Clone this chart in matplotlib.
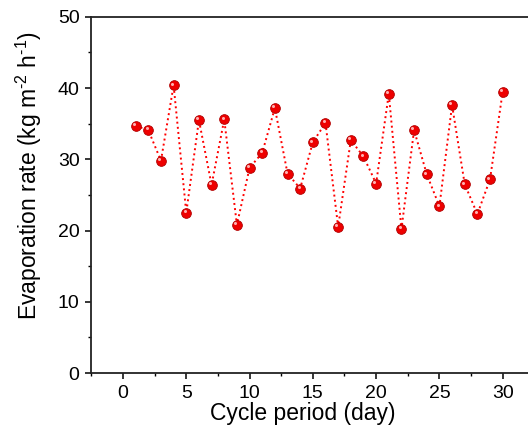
import numpy as np
import matplotlib
matplotlib.use("Agg")
import matplotlib.pyplot as plt
from matplotlib.transforms import offset_copy
from matplotlib.ticker import MultipleLocator

plt.rcParams['font.family'] = ['Liberation Sans', 'DejaVu Sans']
plt.rcParams['mathtext.fontset'] = 'custom'
plt.rcParams['mathtext.rm'] = 'Liberation Sans'

# cycle day and evaporation rate
days = np.arange(1, 31)
rate = [34.7, 34.1, 29.8, 40.4, 22.5, 35.5, 26.4, 35.6, 20.8, 28.8,
        30.9, 37.2, 28.0, 25.9, 32.4, 35.1, 20.5, 32.7, 30.4, 26.6,
        39.2, 20.2, 34.1, 27.9, 23.4, 37.6, 26.5, 22.3, 27.2, 39.5]

fig = plt.figure(figsize=(5.28, 4.43), dpi=100)
ax = fig.add_axes([0.173, 0.158, 0.827, 0.804])

ax.plot(days, rate, linestyle=':', color='red', linewidth=1.4, zorder=2)
ax.plot(days, rate, linestyle='none', marker='o', markersize=7,
        markerfacecolor='#ee0000', markeredgecolor='#b00000',
        markeredgewidth=0.6, zorder=3)
# little highlight to fake the shaded sphere look
hl = offset_copy(ax.transData, fig=fig, x=-1.2, y=1.2, units='points')
ax.plot(days, rate, linestyle='none', marker='o', markersize=2.2,
        markerfacecolor='#ffb0b0', markeredgewidth=0, transform=hl, zorder=4)

ax.set_xlim(-2.5, 32)
ax.set_ylim(0, 50)
ax.xaxis.set_major_locator(MultipleLocator(5))
ax.xaxis.set_minor_locator(MultipleLocator(2.5))
ax.yaxis.set_major_locator(MultipleLocator(10))
ax.yaxis.set_minor_locator(MultipleLocator(5))

for s in ['left', 'bottom', 'top']:
    ax.spines[s].set_linewidth(1.3)
    ax.spines[s].set_color('#222222')
ax.spines['right'].set_visible(False)

ax.tick_params(which='major', direction='out', length=4.5, width=1.1,
               labelsize=14, pad=4)
ax.tick_params(which='minor', direction='out', length=2.5, width=1.0)
ax.tick_params(top=False, right=False)

ax.set_xlabel('Cycle period (day)', fontsize=16.5, labelpad=0)
ax.set_ylabel(r'Evaporation rate (kg m$^{\text{-2}}$ h$^{\text{-1}}$)',
              fontsize=16.5, labelpad=10)
ax.xaxis.label.set_x(0.485)
ax.yaxis.label.set_y(0.555)

fig.savefig('out.png', dpi=100)
